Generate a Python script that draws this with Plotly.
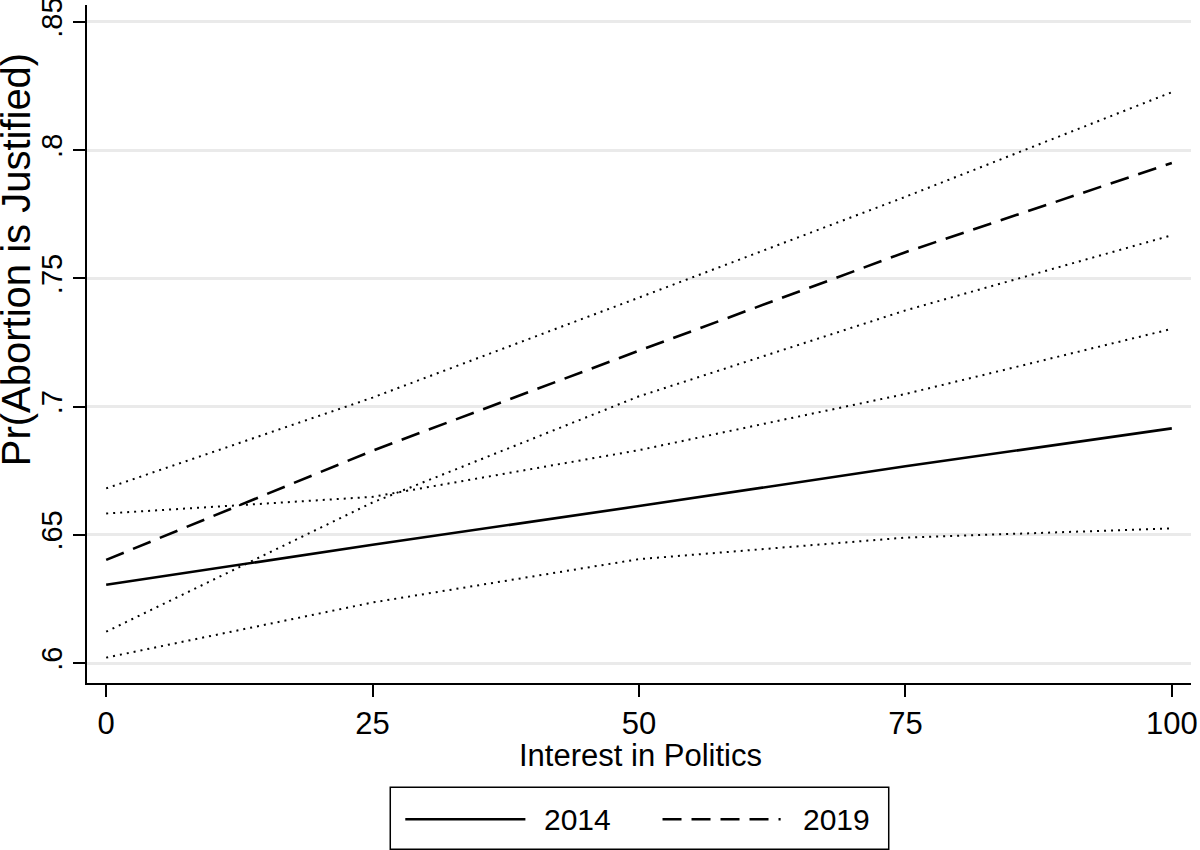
import plotly.graph_objects as go

# Data
interest = [0, 25, 50, 75, 100]

pred_2014 = [0.6305, 0.6461, 0.6612, 0.6767, 0.6915]
lo_2014 = [0.6021, 0.6236, 0.6405, 0.6489, 0.6525]
hi_2014 = [0.6583, 0.6648, 0.6830, 0.7049, 0.7303]

pred_2019 = [0.6402, 0.6828, 0.7218, 0.7602, 0.7950]
lo_2019 = [0.6122, 0.6626, 0.7040, 0.7375, 0.7668]
hi_2019 = [0.6681, 0.7035, 0.7425, 0.7818, 0.8226]

y_ticks = [0.6, 0.65, 0.7, 0.75, 0.8, 0.85]
y_tick_labels = [".6", ".65", ".7", ".75", ".8", ".85"]
x_ticks = [0, 25, 50, 75, 100]

FONT = "Liberation Sans, Arial, sans-serif"
BLACK = "#000000"

fig = go.Figure()

for lo, hi in [(lo_2014, hi_2014), (lo_2019, hi_2019)]:
    for ci in (lo, hi):
        fig.add_trace(go.Scatter(
            x=interest, y=ci, mode="lines",
            line=dict(color=BLACK, width=2, dash="2px,5px"),
            showlegend=False, hoverinfo="skip"))

fig.add_trace(go.Scatter(
    x=interest, y=pred_2014, mode="lines", name="2014",
    line=dict(color=BLACK, width=2.6), showlegend=False))
fig.add_trace(go.Scatter(
    x=interest, y=pred_2019, mode="lines", name="2019",
    line=dict(color=BLACK, width=2.6, dash="19px,10px"), showlegend=False))

# Manual legend box (Stata style)
shapes = [
    dict(type="rect", xref="paper", yref="paper",
         x0=0.2747, x1=0.7262, y0=-0.2452, y1=-0.1536,
         line=dict(color=BLACK, width=1.5), fillcolor="white"),
    dict(type="line", xref="paper", yref="paper",
         x0=0.2883, x1=0.3971, y0=-0.2009, y1=-0.2009,
         line=dict(color=BLACK, width=2.6)),
    dict(type="line", xref="paper", yref="paper",
         x0=0.5213, x1=0.6283, y0=-0.2009, y1=-0.2009,
         line=dict(color=BLACK, width=2.6, dash="19px,10px")),
]
annotations = [
    dict(xref="paper", yref="paper", x=0.4442, y=-0.2009, text="2014",
         showarrow=False, font=dict(family=FONT, size=30, color=BLACK),
         xanchor="center", yanchor="middle"),
    dict(xref="paper", yref="paper", x=0.6785, y=-0.2009, text="2019",
         showarrow=False, font=dict(family=FONT, size=30, color=BLACK),
         xanchor="center", yanchor="middle"),
    # axis titles (placed as in the reference)
    dict(xref="paper", yref="paper", x=-0.0644, y=0.6248,
         text="Pr(Abortion is Justified)", textangle=-90,
         showarrow=False, font=dict(family=FONT, size=40, color=BLACK),
         xanchor="center", yanchor="middle"),
    dict(xref="paper", yref="paper", x=0.5014, y=-0.1064,
         text="Interest in Politics",
         showarrow=False, font=dict(family=FONT, size=31, color=BLACK),
         xanchor="center", yanchor="middle"),
]

fig.update_layout(
    width=1200, height=850,
    margin=dict(l=87, r=9, t=5, b=167, autoexpand=False),
    paper_bgcolor="white", plot_bgcolor="white",
    font=dict(family=FONT, size=31, color=BLACK),
    shapes=shapes, annotations=annotations,
    showlegend=False,
)

fig.update_xaxes(
    range=[-1.8, 101.8], tickvals=x_ticks, automargin=False,
    ticks="outside", ticklen=12, tickwidth=1.5, tickcolor=BLACK,
    showline=True, linecolor=BLACK, linewidth=1.8,
    showgrid=False, zeroline=False, ticklabeloverflow="allow",
    tickfont=dict(family=FONT, size=31, color=BLACK),
)
fig.update_yaxes(
    range=[0.5922, 0.8566], tickvals=y_ticks, ticktext=y_tick_labels,
    tickangle=-90, automargin=False, ticklabeloverflow="allow",
    ticks="outside", ticklen=12, tickwidth=1.5, tickcolor=BLACK,
    showline=True, linecolor=BLACK, linewidth=1.8,
    showgrid=True, gridcolor="#eaeaea", gridwidth=2.5,
    zeroline=False,
    tickfont=dict(family=FONT, size=29, color=BLACK),
)

fig.write_html(
    "out.html",
    config={"displayModeBar": False},
    post_script="document.body.style.margin='0';document.body.style.padding='0';",
)
